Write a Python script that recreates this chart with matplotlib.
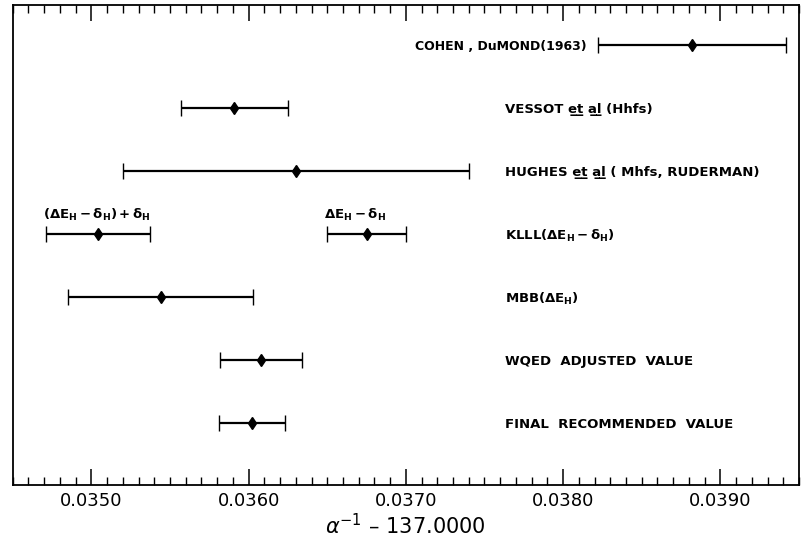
import numpy as np
import matplotlib
matplotlib.use("Agg")
import matplotlib.pyplot as plt
from matplotlib.mathtext import MathTextParser
from matplotlib.ticker import MultipleLocator

# ---- data (alpha^-1 - 137.0000) ----
row_names = ["COHEN , DuMOND (1963)", "VESSOT et al (Hhfs)",
             "HUGHES et al (Mhfs, RUDERMAN)", "KLLL", "MBB", "WQED", "FINAL"]
values = [0.03882, 0.03591, 0.03630, 0.03504, 0.03675, 0.03544, 0.03608, 0.03602]
errors = [0.00060, 0.00034, 0.00110, 0.00033, 0.00025, 0.00059, 0.00026, 0.00021]
row_index = [0, 1, 2, 3, 3, 4, 5, 6]
tick_values = [0.0350, 0.0360, 0.0370, 0.0380, 0.0390]
tick_labels = ["0.0350", "0.0360", "0.0370", "0.0380", "0.0390"]

# underline support check
def has_underline():
    try:
        MathTextParser("agg").parse(r"$\underline{et}$", dpi=100)
        return True
    except Exception:
        return False

if has_underline():
    ul = lambda s: r"$\mathbf{\underline{" + s + r"}}$"
else:
    ul = lambda s: "".join(c + "\u0332" for c in s)

label_texts = [
    "COHEN , DuMOND(1963)",
    "VESSOT " + ul("et") + " " + ul("al") + " (Hhfs)",
    "HUGHES " + ul("et") + " " + ul("al") + " ( Mhfs, RUDERMAN)",
    r"KLLL($\mathbf{\Delta E_H - \delta_H}$)",
    r"MBB($\mathbf{\Delta E_H}$)",
    "WQED  ADJUSTED  VALUE",
    "FINAL  RECOMMENDED  VALUE",
]
klll_notes = [r"$\mathbf{(\Delta E_H - \delta_H) + \delta_H}$", r"$\mathbf{\Delta E_H - \delta_H}$"]

plt.rcParams["mathtext.fontset"] = "dejavusans"

fig = plt.figure(figsize=(8.01, 5.42), dpi=100)
ax = fig.add_axes([0.0159, 0.1052, 0.9816, 0.8856])

n_rows = len(row_names)
row_y = n_rows - np.arange(n_rows)  # 7 .. 1
ys = [row_y[i] for i in row_index]

ax.errorbar(values, ys, xerr=errors, fmt="d", color="black", ms=6.5,
            elinewidth=1.6, capsize=6, capthick=1.8, markeredgewidth=1.0)

ax.set_xlim(0.0345, 0.0395)
ax.set_ylim(0.016, 7.635)

# labels
label_x = 0.03763
for i, txt in enumerate(label_texts):
    if i == 0:
        ax.text(0.03815, row_y[i] - 0.03, txt, ha="right", va="center",
                fontsize=9, fontweight="bold")
    else:
        ax.text(label_x, row_y[i] - 0.03, txt, ha="left", va="center",
                fontsize=9.5, fontweight="bold")

# notes above the KLLL bars
k_idx = [j for j, r in enumerate(row_index) if r == 3]
for note, j in zip(klll_notes, k_idx):
    ax.annotate(note, xy=(values[j] - errors[j], ys[j]), xytext=(-2, 14),
                textcoords="offset points", ha="left", va="center",
                fontsize=9.5, fontweight="bold")

# ticks
ax.set_xticks(tick_values)
ax.set_xticklabels(tick_labels, fontsize=13)
ax.xaxis.set_minor_locator(MultipleLocator(0.0001))
ax.tick_params(axis="x", which="major", direction="in", length=11.5, width=1.1,
               top=True, bottom=True, pad=5)
ax.tick_params(axis="x", which="minor", direction="in", length=5.5, width=1.0,
               top=True, bottom=True)
ax.set_yticks([])
for sp in ax.spines.values():
    sp.set_linewidth(1.3)

ax.set_xlabel(r"$\alpha^{-1}$" + " \u2013 137.0000", fontsize=15, labelpad=2)

fig.savefig("out.png", dpi=100)
